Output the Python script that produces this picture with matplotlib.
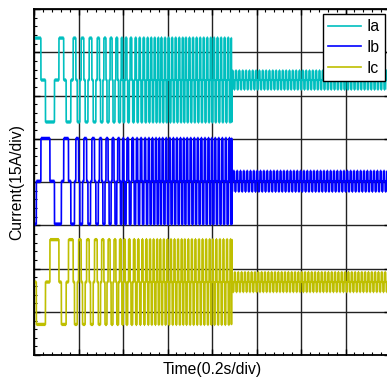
import numpy as np
import matplotlib
matplotlib.use("Agg")
import matplotlib.pyplot as plt
from matplotlib.ticker import MultipleLocator

plt.rcParams['font.family'] = ['Liberation Sans', 'DejaVu Sans']

# start-up: times (in divisions) where each electrical cycle begins
cycle_start_div = [-0.05, 0.56, 0.88, 1.06, 1.24, 1.42, 1.57, 1.71, 1.84, 1.96,
                   2.05, 2.16, 2.27, 2.36, 2.45, 2.54, 2.62, 2.70, 2.78, 2.85,
                   2.93, 3.01, 3.09, 3.17, 3.25, 3.33, 3.40, 3.48, 3.56, 3.64,
                   3.72, 3.80, 3.88, 3.96, 4.03, 4.11, 4.19, 4.27, 4.35, 4.43]
transient_end_div = 4.45
steady_period_div = 0.075

# six-step current pattern (+1 / 0 / -1) for each phase
pattern = {
    'Ia': [1, 1, 0, -1, -1, 0],
    'Ib': [-1, 0, 1, 1, 0, -1],
    'Ic': [0, -1, -1, 0, 1, 1],
}
# trace offsets and amplitudes, in divisions (15 A/div)
offset = {'Ia': 6.36, 'Ib': 4.02, 'Ic': 1.69}
amp_start = {'Ia': 0.97, 'Ib': 0.99, 'Ic': 0.98}
amp_steady = {'Ia': 0.21, 'Ib': 0.23, 'Ic': 0.22}
colors = {'Ia': (0.0, 0.75, 0.75), 'Ib': (0.0, 0.0, 1.0), 'Ic': (0.75, 0.75, 0.0)}

# cycle boundaries: listed start-up cycles, then the steady run
steady_starts = np.arange(transient_end_div, 8.2, steady_period_div)
starts = np.concatenate([cycle_start_div, steady_starts])

t = np.arange(0.0, 8.0, 0.0025)
idx = np.searchsorted(starts, t, side='right') - 1
frac = (t - starts[idx]) / (starts[idx + 1] - starts[idx])
step = np.minimum((frac * 6).astype(int), 5)
steady = t >= transient_end_div

fig = plt.figure(figsize=(3.87, 3.79), dpi=100)
ax = fig.add_axes([0.088, 0.063, 0.92, 0.913])

for name in ['Ia', 'Ib', 'Ic']:
    lv = np.array(pattern[name])[step]
    a = np.where(steady, amp_steady[name], amp_start[name])
    y = offset[name] + a * lv
    # thin edges, thick flat parts (scope-style trace)
    ax.plot(t, y, color=colors[name], lw=1.2, label=name)
    flat = y.copy()
    flat[1:][np.diff(y) != 0] = np.nan
    ax.plot(t, flat, color=colors[name], lw=2.4, solid_capstyle='butt')

ax.set_xlim(0, 8)
ax.set_ylim(0, 8)
ax.xaxis.set_major_locator(MultipleLocator(1))
ax.yaxis.set_major_locator(MultipleLocator(1))
ax.xaxis.set_minor_locator(MultipleLocator(0.2))
ax.yaxis.set_minor_locator(MultipleLocator(0.2))
ax.tick_params(which='both', direction='in', top=True, right=True,
               labelbottom=False, labelleft=False)
ax.tick_params(which='major', length=4, width=1)
ax.tick_params(which='minor', length=2.5, width=0.8)
ax.grid(True, which='major', color='#222222', lw=1.0)
for s in ax.spines.values():
    s.set_linewidth(1.3)
    s.set_color('black')

ax.set_xlabel('Time(0.2s/div)', fontsize=11.3, labelpad=5)
ax.set_ylabel('Current(15A/div)', fontsize=11.3, labelpad=7)

leg = ax.legend(loc='upper right', bbox_to_anchor=(0.985, 0.985), fontsize=11.3,
                fancybox=False, framealpha=1, edgecolor='black',
                handlelength=2.1, borderpad=0.3, labelspacing=0.38,
                handletextpad=0.4, borderaxespad=0.0)
leg.get_frame().set_linewidth(1.0)
for h in leg.get_lines():
    h.set_linewidth(1.2)

fig.savefig('out.png', dpi=100)
